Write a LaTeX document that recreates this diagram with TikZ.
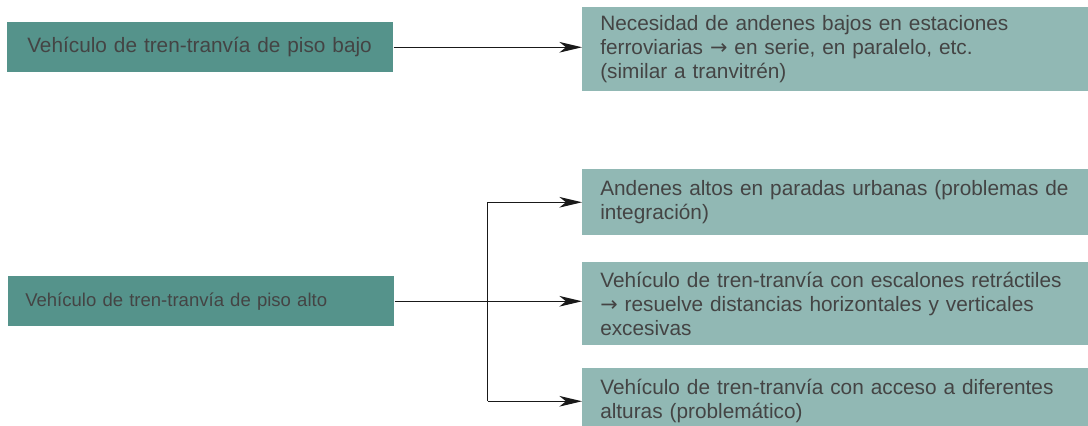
\documentclass[tikz,border=0pt]{standalone}
\usepackage{fontspec}
\setmainfont{Liberation Sans}
\newfontfamily\arrowfont{DejaVu Sans}
\usetikzlibrary{arrows.meta}
\definecolor{tealdark}{HTML}{55938B}
\definecolor{teallight}{HTML}{91B8B4}
\definecolor{textgray}{HTML}{444444}
\newcommand{\flecha}{{\arrowfont →}}
\tikzset{
  box/.style={anchor=north west, inner ysep=0pt, align=left, text=textgray},
  pisobox/.style={box, fill=tealdark, minimum width=289.5pt, minimum height=37.5pt,
    inner xsep=12.75pt, text width=264pt, font=\fontsize{13.9}{18}\selectfont},
  notebox/.style={box, fill=teallight, minimum width=379.5pt, inner xsep=13.5pt,
    text width=352.5pt, font=\fontsize{15.6}{18}\selectfont},
  flow/.style={-{Stealth[length=17pt,width=8pt,inset=5pt]}, line width=.8pt, draw=black!90}
}
\begin{document}
\begin{tikzpicture}[x=0.75pt,y=-0.75pt]
\useasboundingbox (0,0) rectangle (1088,425);
\clip (0,0) rectangle (1088,425);
% piso bajo
\node[pisobox, inner xsep=15pt, text width=259.5pt, font=\fontsize{15.6}{18}\selectfont]
  (bajo) at (7,22) {Vehículo de tren-tranvía de piso bajo};
\node[notebox, minimum height=63pt] (serie) at (582,7)
  {Necesidad de andenes bajos en estaciones\\ferroviarias \flecha{} en serie, en paralelo, etc.\\(similar a tranvitrén)};
\draw[flow] (bajo.east) -- (bajo.east -| serie.west);
% piso alto
\node[pisobox] (alto) at (8,276) {Vehículo de tren-tranvía de piso alto};
\node[notebox, minimum height=49.5pt] (altos) at (582,169)
  {Andenes altos en paradas urbanas (problemas de\\integración)};
\node[notebox, minimum height=62.25pt] (escal) at (582,262)
  {Vehículo de tren-tranvía con escalones retráctiles\\\flecha{} resuelve distancias horizontales y verticales\\excesivas};
\node[notebox, minimum height=49.5pt] (acceso) at (582,368)
  {Vehículo de tren-tranvía con acceso a diferentes\\alturas (problemático)};
\coordinate (split) at ([xshift=69.75pt]alto.east);
\draw[line width=.8pt, draw=black!90] (split |- altos.west) -- (split |- acceso.west);
\draw[flow] (split |- altos.west) -- (altos.west);
\draw[flow] (alto.east) -- (alto.east -| escal.west);
\draw[flow] (split |- acceso.west) -- (acceso.west);
\end{tikzpicture}
\end{document}
